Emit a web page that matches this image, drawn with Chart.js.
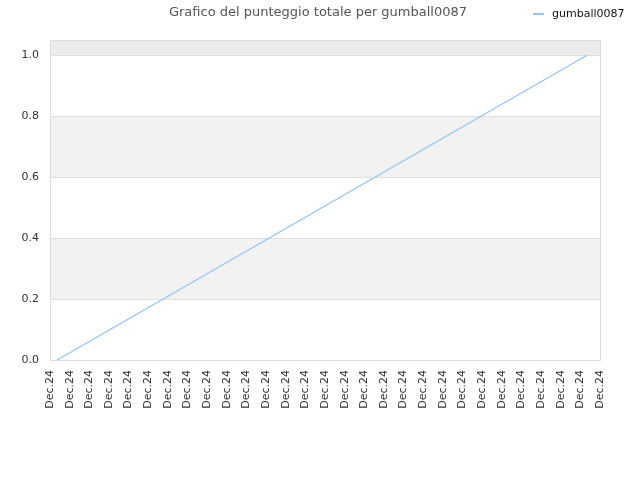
<!DOCTYPE html>
<html>
<head>
<meta charset="utf-8">
<script src="https://cdn.jsdelivr.net/npm/chart.js@4"></script>
<style>
    body { margin: 0; background: #fff; }
    #wrap { position: relative; width: 640px; height: 480px; }
    #title {
        position: absolute; top: 4px; left: 0; width: 636px; text-align: center;
        font: 13px "DejaVu Sans", sans-serif; color: #555;
    }
    #legend {
        position: absolute; top: 7px; left: 533px;
        font: 11px "DejaVu Sans", sans-serif; color: #111;
    }
    #legend span.mark {
        display: inline-block; width: 11px; height: 2px; background: #94c6f5;
        vertical-align: middle; margin-right: 8px;
    }
</style>
</head>
<body>
<div id="wrap">
    <canvas id="scoreChart" width="640" height="480"></canvas>
    <div id="title">Grafico del punteggio totale per gumball0087</div>
    <div id="legend"><span class="mark"></span>gumball0087</div>
</div>
<script>
// Chart data
const seriesName = 'gumball0087';
const tickLabel = 'Dec.24';
const xValues = [0.36, 27.34];
const scores = [0, 1];

// Alternating background bands + plot border
const bandsPlugin = {
    id: 'bands',
    beforeDraw(chart) {
        const ctx = chart.ctx;
        const area = chart.chartArea;
        const y = chart.scales.y;
        const bands = [
            { from: 1.0, to: 1.05, color: '#ececec' },
            { from: 0.6, to: 0.8, color: '#f2f2f2' },
            { from: 0.2, to: 0.4, color: '#f2f2f2' },
        ];
        ctx.save();
        bands.forEach(b => {
            const top = y.getPixelForValue(b.to);
            const bottom = y.getPixelForValue(b.from);
            ctx.fillStyle = b.color;
            ctx.fillRect(area.left, top, area.right - area.left, bottom - top);
        });
        ctx.restore();
    },
    afterDatasetsDraw(chart) {
        const ctx = chart.ctx;
        const area = chart.chartArea;
        ctx.save();
        ctx.strokeStyle = '#dddddd';
        ctx.lineWidth = 1;
        ctx.strokeRect(area.left + 0.5, area.top + 0.5, area.right - area.left, area.bottom - area.top);
        ctx.restore();
    }
};

const ctx = document.getElementById('scoreChart').getContext('2d');
new Chart(ctx, {
    type: 'line',
    data: {
        datasets: [{
            label: seriesName,
            data: xValues.map((x, i) => ({ x: x, y: scores[i] })),
            borderColor: '#94c6f5',
            borderWidth: 1.3,
            pointRadius: 0,
            fill: false,
            tension: 0
        }]
    },
    options: {
        responsive: false,
        animation: false,
        layout: { padding: { top: 40, right: 40, left: 0, bottom: 0 } },
        plugins: {
            legend: { display: false },
            title: { display: false },
            tooltip: { enabled: false }
        },
        scales: {
            x: {
                type: 'linear',
                min: 0,
                max: 28,
                grid: { display: false, drawTicks: false },
                border: { display: false },
                ticks: {
                    stepSize: 1,
                    autoSkip: false,
                    minRotation: 90,
                    maxRotation: 90,
                    padding: 10,
                    color: '#333',
                    font: { family: 'DejaVu Sans', size: 11 },
                    callback: () => tickLabel
                },
                afterFit(scale) { scale.height = 120; }
            },
            y: {
                min: 0,
                max: 1.05,
                grid: { color: '#e0e0e0', drawTicks: false },
                border: { display: false },
                ticks: {
                    stepSize: 0.2,
                    padding: 11,
                    color: '#333',
                    font: { family: 'DejaVu Sans', size: 11 },
                    callback: v => v.toFixed(1)
                },
                afterBuildTicks(scale) {
                    scale.ticks = scale.ticks.filter(t => t.value <= 1.0001);
                },
                afterFit(scale) { scale.width = 50; }
            }
        }
    },
    plugins: [bandsPlugin]
});
</script>
</body>
</html>
